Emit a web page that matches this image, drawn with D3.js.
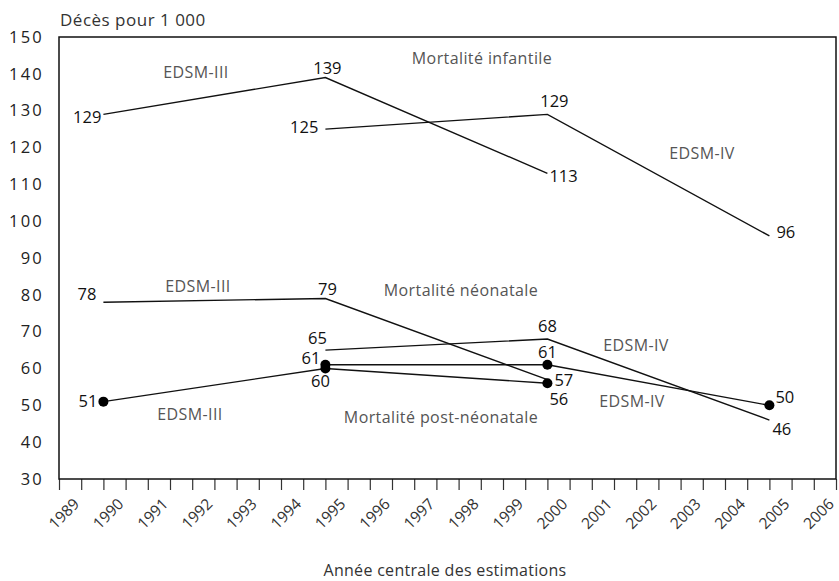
<!DOCTYPE html>
<html>
<head>
<meta charset="utf-8">
<script src="https://cdn.jsdelivr.net/npm/d3@7"></script>
<style>
  html, body { margin: 0; padding: 0; background: #fff; }
  svg { display: block; font-family: "Open Sans", "Lato", sans-serif; }
</style>
</head>
<body>
<svg id="chart" width="839" height="581"></svg>
<script>
// Central years of the survey estimates
const yearsIII = [1989.5, 1994.5, 1999.5];
const yearsIV = [1994.5, 1999.5, 2004.5];

// Deaths per 1 000
const infantIII = [129, 139, 113];
const infantIV = [125, 129, 96];
const neonatalIII = [78, 79, 57];
const neonatalIV = [65, 68, 46];
const postneonatalIII = [51, 60, 56];
const postneonatalIV = [61, 61, 50];

const yTicks = [30, 40, 50, 60, 70, 80, 90, 100, 110, 120, 130, 140, 150];
const yearLabels = d3.range(1989, 2007);

const FONT = "'Open Sans', Lato, sans-serif";
const svg = d3.select("#chart");
const m = { left: 59, right: 836, top: 37, bottom: 479 };

const x = d3.scaleLinear().domain([1988.5, 2006]).range([m.left, m.right]);
const y = d3.scaleLinear().domain([30, 150]).range([m.bottom, m.top]);

// Y axis labels
const yAxis = svg.append("g")
  .attr("transform", `translate(${m.left},0)`)
  .call(d3.axisLeft(y).tickValues(yTicks).tickSize(0).tickPadding(15));
yAxis.select(".domain").remove();
yAxis.selectAll("text")
  .attr("font-size", 16.5).attr("fill", "#222")
  .attr("letter-spacing", 2.2)
  .attr("font-family", FONT);

// X axis: tick marks every half year, labels on whole years
const halfYears = d3.range(0, 36).map(i => 1988.5 + i * 0.5);
const xAxis = svg.append("g")
  .attr("transform", `translate(0,${m.bottom})`)
  .call(d3.axisBottom(x).tickValues(halfYears).tickSize(11).tickFormat(""));
xAxis.select(".domain").remove();
xAxis.selectAll("line").attr("stroke", "#333").attr("stroke-width", 1.2);

svg.append("g").selectAll("text")
  .data(yearLabels).join("text")
  .attr("transform", d => `translate(${x(d) - 1},${505}) rotate(-45)`)
  .attr("text-anchor", "end")
  .attr("font-size", 15.5)
  .attr("fill", "#333")
  .text(d => d);

// Plot frame
svg.append("rect")
  .attr("x", m.left).attr("y", m.top)
  .attr("width", m.right - m.left).attr("height", m.bottom - m.top)
  .attr("fill", "none").attr("stroke", "#111").attr("stroke-width", 1.5);

// Series with the placement of each value label around its point
const series = [
  { years: yearsIII, values: infantIII, markers: false,
    labels: [{ dx: -2, dy: 9, anchor: "end" }, { dx: 2, dy: -4, anchor: "middle" }, { dx: 2, dy: 9, anchor: "start" }] },
  { years: yearsIV, values: infantIV, markers: false,
    labels: [{ dx: -7, dy: 4, anchor: "end" }, { dx: 7, dy: -7, anchor: "middle" }, { dx: 7, dy: 2, anchor: "start" }] },
  { years: yearsIII, values: neonatalIII, markers: false,
    labels: [{ dx: -7, dy: -2, anchor: "end" }, { dx: 2, dy: -4, anchor: "middle" }, { dx: 7, dy: 6, anchor: "start" }] },
  { years: yearsIV, values: neonatalIV, markers: false,
    labels: [{ dx: -8, dy: -6, anchor: "middle" }, { dx: 0, dy: -7, anchor: "middle" }, { dx: 3, dy: 15, anchor: "start" }] },
  { years: yearsIII, values: postneonatalIII, markers: true,
    labels: [{ dx: -6, dy: 5, anchor: "end" }, { dx: -5, dy: 18, anchor: "middle" }, { dx: 2, dy: 22, anchor: "start" }] },
  { years: yearsIV, values: postneonatalIV, markers: true,
    labels: [{ dx: -5, dy: -1, anchor: "end" }, { dx: 0, dy: -7, anchor: "middle" }, { dx: 6, dy: -2, anchor: "start" }] }
];

const line = d3.line().x(d => x(d[0])).y(d => y(d[1]));

series.forEach(s => {
  const pts = s.years.map((yr, i) => [yr, s.values[i]]);
  svg.append("path")
    .attr("d", line(pts))
    .attr("fill", "none").attr("stroke", "#111").attr("stroke-width", 1.4);
  if (s.markers) {
    svg.append("g").selectAll("circle")
      .data(pts).join("circle")
      .attr("cx", d => x(d[0])).attr("cy", d => y(d[1]))
      .attr("r", 5).attr("fill", "#000");
  }
  svg.append("g").selectAll("text")
    .data(pts).join("text")
    .attr("x", (d, i) => x(d[0]) + s.labels[i].dx)
    .attr("y", (d, i) => y(d[1]) + s.labels[i].dy)
    .attr("text-anchor", (d, i) => s.labels[i].anchor)
    .attr("font-size", 16.5).attr("fill", "#111")
    .text(d => d[1]);
});

// Annotations
const notes = [
  { t: "Décès pour 1 000", x: 60, y: 26, a: "start", c: "#333", s: 17, ls: 0.5 },
  { t: "EDSM-III", x: 196, y: 78, a: "middle", c: "#555", s: 16, ls: 0.4 },
  { t: "Mortalité infantile", x: 482, y: 64, a: "middle", c: "#555", s: 16, ls: 0.4 },
  { t: "EDSM-IV", x: 702, y: 159, a: "middle", c: "#555", s: 16, ls: 0.4 },
  { t: "EDSM-III", x: 198, y: 292, a: "middle", c: "#555", s: 16, ls: 0.4 },
  { t: "Mortalité néonatale", x: 461, y: 296, a: "middle", c: "#555", s: 16, ls: 0.4 },
  { t: "EDSM-IV", x: 636, y: 351, a: "middle", c: "#555", s: 16, ls: 0.4 },
  { t: "EDSM-IV", x: 632, y: 407, a: "middle", c: "#555", s: 16, ls: 0.4 },
  { t: "EDSM-III", x: 190, y: 420, a: "middle", c: "#555", s: 16, ls: 0.4 },
  { t: "Mortalité post-néonatale", x: 441, y: 423, a: "middle", c: "#555", s: 16, ls: 0.4 },
  { t: "Année centrale des estimations", x: 445, y: 576, a: "middle", c: "#333", s: 16, ls: 0.3 }
];
svg.append("g").selectAll("text")
  .data(notes).join("text")
  .attr("x", d => d.x).attr("y", d => d.y)
  .attr("text-anchor", d => d.a)
  .attr("font-size", d => d.s)
  .attr("letter-spacing", d => d.ls)
  .attr("fill", d => d.c)
  .text(d => d.t);
</script>
</body>
</html>
